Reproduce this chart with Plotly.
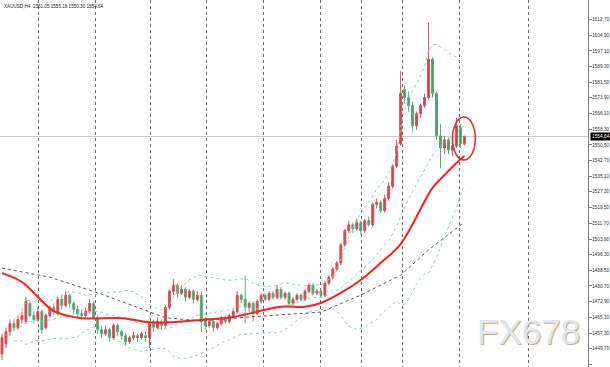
import plotly.graph_objects as go
import numpy as np

# ---- data (H4 bars, index = bar number) ----
opens = [1447,1452,1458,1462,1460,1464,1463,1472,1466,1464,1468,1460,1466,1470,1467,1474,1471,1476,1472,1469,
         1467,1466,1468,1472,1465,1459,1457,1459,1455,1461,1458,1456,1453,1455,1456,1455,1456,1455,1462,1460,
         1463,1461,1470,1478,1481,1477,1479,1475,1478,1474,1476,1463,1461,1463,1460,1462,1465,1463,1466,1468,
         1476,1474,1470,1472,1467,1473,1476,1474,1477,1475,1479,1475,1477,1472,1474,1476,1474,1478,1481,1477,
         1478,1476,1482,1485,1489,1492,1501,1508,1511,1509,1512,1508,1513,1511,1521,1522,1518,1524,1530,1540,
         1551,1578,1574,1570,1560,1566,1570,1574,1593,1576,1555,1549,1553,1548,1550,1559,1551.05]
closes = [1455,1458,1462,1460,1464,1466,1473,1466,1464,1468,1459,1466,1470,1468,1474,1471,1476,1472,1469,1467,
          1466,1468,1472,1465,1459,1457,1459,1455,1461,1458,1456,1453,1455,1456,1455,1457,1455,1462,1460,1463,
          1461,1470,1478,1481,1477,1479,1475,1478,1474,1476,1463,1461,1463,1460,1462,1465,1463,1466,1468,1476,
          1474,1470,1472,1467,1473,1476,1474,1477,1475,1479,1475,1477,1472,1474,1476,1474,1478,1481,1477,1478,
          1476,1482,1485,1489,1492,1501,1508,1511,1509,1512,1508,1513,1511,1521,1522,1518,1524,1530,1540,1550,
          1576,1574,1570,1560,1566,1570,1574,1593,1576,1555,1549,1553,1548,1550,1560,1551.05,1554.64]
highs = [1457,1460,1464,1464,1466,1468,1475,1473,1468,1470,1469,1467,1471,1472,1475,1476,1478,1477,1473,1471,
         1469,1470,1474,1473,1466,1461,1461,1460,1462,1462,1459,1457,1456,1458,1457,1458,1458,1463,1464,1465,
         1464,1471,1479,1484,1482,1481,1480,1479,1479,1478,1478,1465,1464,1464,1463,1466,1466,1467,1469,1478,
         1477,1486,1473,1473,1474,1477,1477,1478,1478,1481,1480,1478,1478,1475,1477,1477,1479,1482,1482,1479,
         1479,1483,1486,1490,1493,1502,1509,1513,1512,1514,1513,1514,1515,1522,1524,1523,1526,1532,1541,1553,
         1587,1580,1577,1572,1567,1571,1576,1611,1594,1577,1561,1555,1554,1552,1564,1561,1555.18]
lows = [1444,1450,1456,1458,1459,1462,1462,1465,1462,1463,1457,1459,1465,1466,1466,1469,1470,1470,1467,1465,
        1464,1465,1467,1464,1457,1455,1456,1453,1454,1456,1454,1451,1452,1454,1453,1454,1453,1450,1458,1459,
        1459,1460,1469,1476,1475,1476,1473,1474,1472,1473,1458,1459,1460,1458,1459,1461,1462,1462,1465,1467,
        1472,1462,1468,1463,1466,1472,1473,1473,1474,1474,1474,1474,1471,1471,1473,1473,1473,1477,1476,1476,
        1475,1475,1481,1484,1488,1491,1500,1507,1507,1508,1506,1507,1510,1510,1519,1517,1517,1523,1529,1539,
        1550,1571,1567,1557,1558,1564,1569,1573,1574,1553,1539,1546,1546,1545,1549,1549,1550.30]

# red moving average (read at selected bars)
ma_red_x = [0, 5, 9, 13, 20, 30, 37, 41, 50, 58, 70, 76, 80, 85, 90, 95, 100, 108, 111, 114, 116]
ma_red_y = [1487.0, 1482.6, 1475.2, 1468.2, 1464.7, 1464.7, 1462.7, 1462.5, 1463.8, 1465.3, 1470.3, 1470.3,
            1472.2, 1477.2, 1483.6, 1492.1, 1501.4, 1529.2, 1535.6, 1541.6, 1545.0]
# grey dotted long moving average
ma_grey_x = [0, 12, 25, 37, 41, 50, 62, 80, 90, 100, 107, 116]
ma_grey_y = [1489.5, 1485.0, 1476.6, 1467.7, 1464.9, 1463.3, 1465.3, 1467.7, 1476.1, 1486.0, 1498.5, 1512.3]

tick_vals = [1612.70, 1604.90, 1597.10, 1589.30, 1581.50, 1573.90, 1566.10, 1558.30, 1550.50, 1542.70,
             1535.10, 1527.30, 1519.50, 1511.70, 1503.90, 1496.30, 1488.50, 1480.70, 1472.90, 1465.10,
             1457.30, 1449.70, 1441.80]
tick_text = [f"{v:.2f}" for v in tick_vals]
separator_bars = [9.25, 23.5, 37.25, 51.25, 65.5, 80, 90.25, 100.5, 114.75, 132]
last_price = 1554.64
circle_x = [113, 118.75]
circle_y = [1543.0, 1564.3]

n = len(closes)
x = list(range(n))

# Bollinger bands (20, 2) computed from the closes
c = np.array(closes, dtype=float)
bb_mid, bb_up, bb_lo = [], [], []
for i in range(n):
    w = c[max(0, i - 19): i + 1]
    m = w.mean(); s = w.std()
    bb_mid.append(m); bb_up.append(m + 2 * s); bb_lo.append(m - 2 * s)

fig = go.Figure()
bb_col = "#8fd6aa"
for band in (bb_up, bb_mid, bb_lo):
    fig.add_trace(go.Scatter(x=x[3:], y=band[3:], mode="lines",
                             line=dict(color=bb_col, width=1, dash="dot"), hoverinfo="skip"))
fig.add_trace(go.Scatter(x=ma_grey_x, y=ma_grey_y, mode="lines",
                         line=dict(color="#5a5a5a", width=1, dash="dot"), hoverinfo="skip"))
fig.add_trace(go.Candlestick(
    x=x, open=opens, high=highs, low=lows, close=closes,
    increasing=dict(line=dict(color="#d8505a", width=1), fillcolor="#d8404a"),
    decreasing=dict(line=dict(color="#55ac78", width=1), fillcolor="#45a46a"),
    whiskerwidth=0,
))
fig.add_trace(go.Scatter(x=ma_red_x, y=ma_red_y, mode="lines",
                         line=dict(color="#ff1e1e", width=2, shape="spline"), hoverinfo="skip"))

fig.add_shape(type="line", xref="paper", x0=0, x1=1, yref="y", y0=last_price, y1=last_price,
              line=dict(color="#c8c8c8", width=1), layer="below")
fig.add_shape(type="circle", xref="x", yref="y", x0=circle_x[0], x1=circle_x[1], y0=circle_y[0], y1=circle_y[1],
              line=dict(color="#e8242a", width=1.5))

fig.add_annotation(xref="paper", yref="y", x=1.003, y=last_price, xanchor="left", yanchor="middle",
                   text=f"{last_price:.2f}", showarrow=False, bgcolor="#000000",
                   font=dict(family="Liberation Sans", size=4.8, color="#ffffff"), borderpad=1)
fig.add_annotation(xref="paper", yref="paper", x=0.004, y=1 - 7 / 367, xanchor="left", yanchor="middle",
                   text="XAUUSD,H4  1551.05 1555.18 1550.30 1554.64", showarrow=False,
                   font=dict(family="Liberation Sans", size=4.6, color="#222222"))
fig.add_annotation(xref="paper", yref="paper", x=530 / 590, y=1 - 331 / 367, xanchor="center", yanchor="middle",
                   text="FX678", showarrow=False,
                   font=dict(family="Liberation Sans", size=35, color="#dde8f5", shadow="1px 1px 1px #c9a684"))

fig.update_layout(
    width=610, height=367, margin=dict(l=0, r=20, t=0, b=0),
    paper_bgcolor="white", plot_bgcolor="white", showlegend=False,
    xaxis=dict(range=[-0.5, 147], rangeslider=dict(visible=False), showticklabels=False,
               tickvals=separator_bars, ticks="", showgrid=True, gridcolor="#6a6a6a", griddash="dot",
               gridwidth=1, zeroline=False, showline=False),
    yaxis=dict(range=[1440.5, 1622.3], side="right", tickvals=tick_vals, ticktext=tick_text,
               tickfont=dict(family="Liberation Sans", size=4.8, color="#333333"),
               ticks="outside", ticklen=3, tickcolor="#808080", showgrid=False, zeroline=False,
               showline=True, linecolor="#808080", linewidth=1, ticklabelstandoff=-1),
)
fig.write_html("out.html", config={"displayModeBar": False},
               post_script="document.body.style.margin='0';document.body.style.overflow='hidden';")
